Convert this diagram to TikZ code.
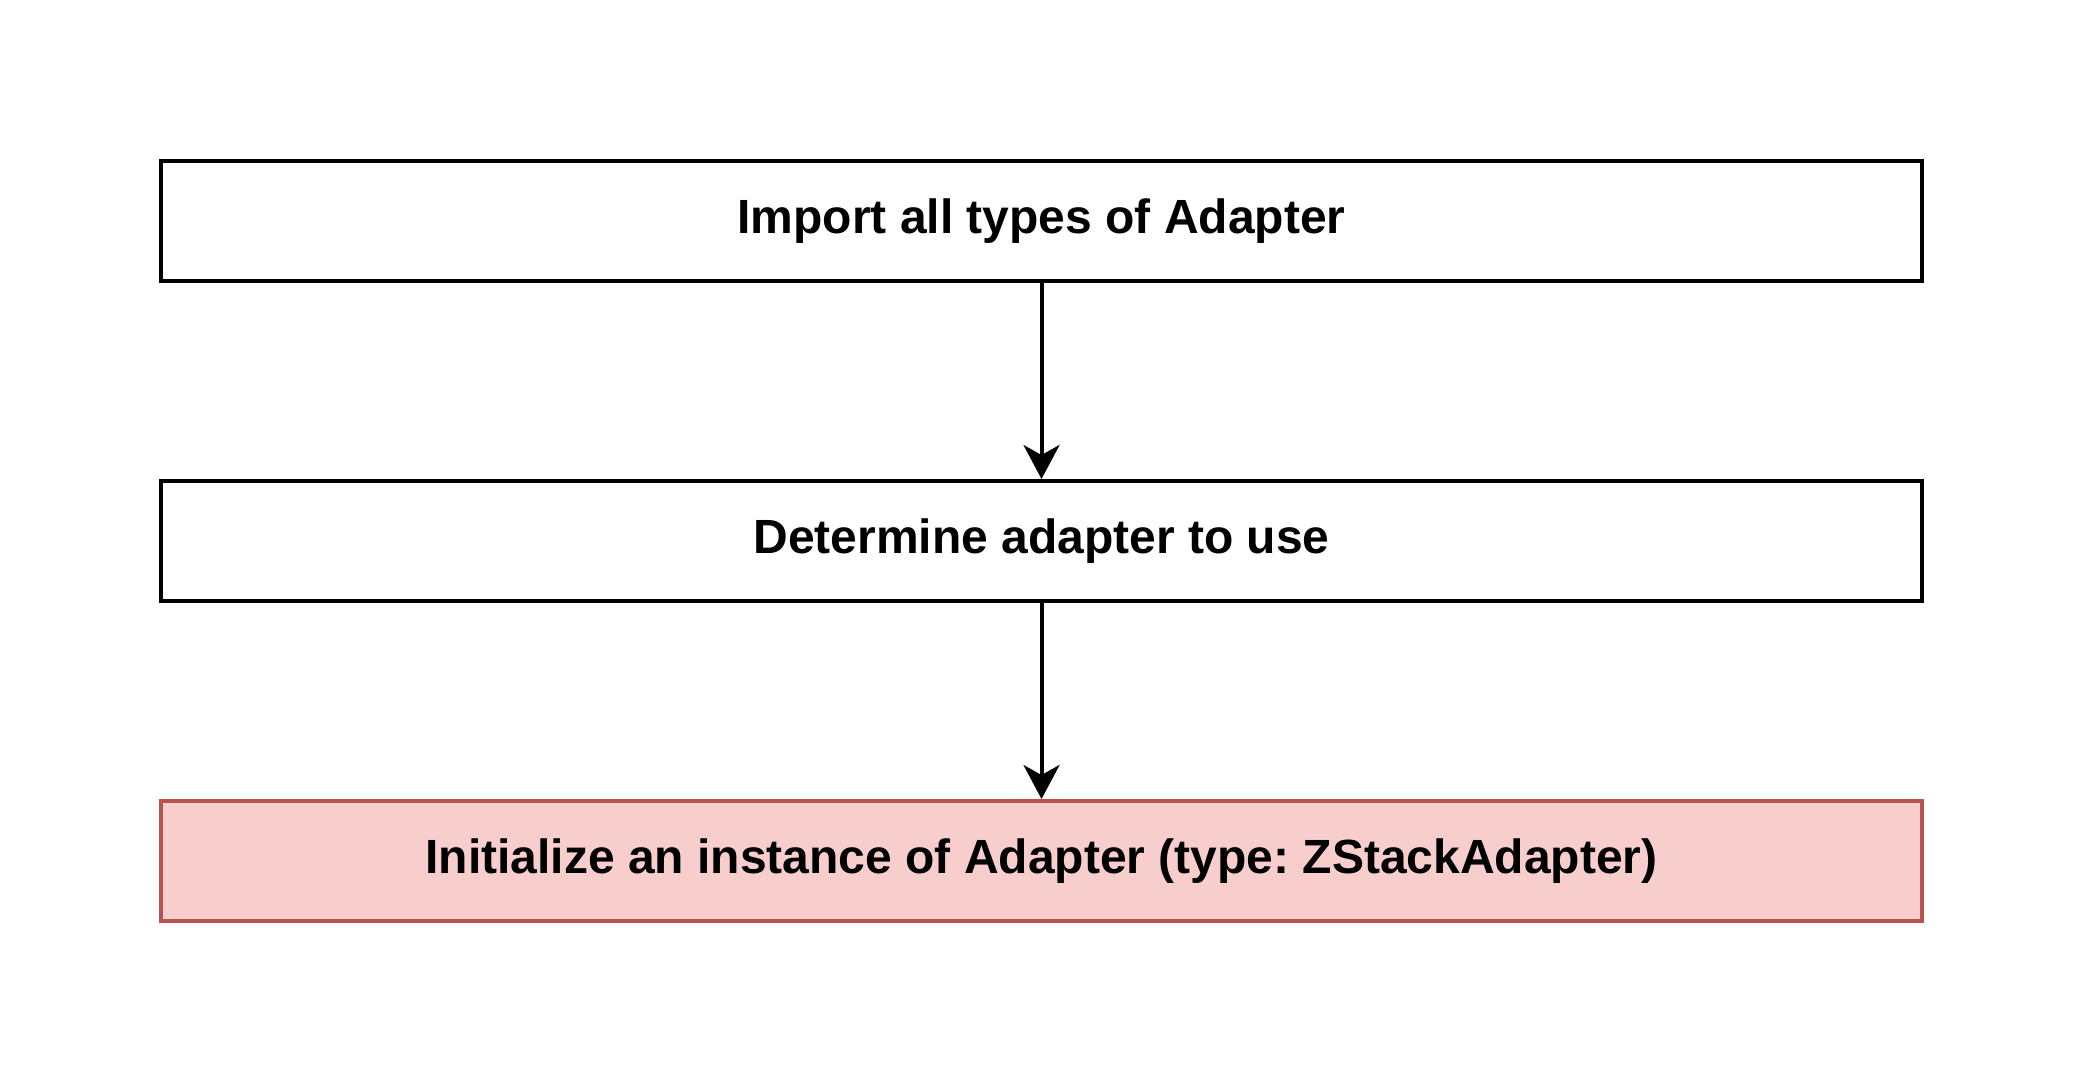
\documentclass[tikz,border=0pt]{standalone}
\usepackage{fontspec}
\setmainfont{Liberation Sans}
\usetikzlibrary{arrows.meta}
\definecolor{redfill}{HTML}{F8CECC}
\definecolor{reddraw}{HTML}{B85450}
\tikzset{
  stepbox/.style={draw=black, line width=4pt, fill=white, minimum width=1761pt, minimum height=120pt, inner sep=0pt, font=\fontsize{48}{58}\selectfont\bfseries},
  redbox/.style={stepbox, draw=reddraw, fill=redfill},
  flow/.style={line width=4pt, -{Stealth[length=34pt, width=36pt, inset=10pt]}}
}
\begin{document}
\frenchspacing
\begin{tikzpicture}[x=1pt, y=-1pt]
\useasboundingbox (0,0) rectangle (2088,1084);
\node[stepbox] (a) at (1041.5,221) {Import all types of Adapter};
\node[stepbox] (b) at (1041.5,541) {Determine adapter to use};
\node[redbox] (c) at (1041.5,861) {Initialize an instance of Adapter (type: ZStackAdapter)};
\draw[flow] (a) -- (b);
\draw[flow] (b) -- (c);
\end{tikzpicture}
\end{document}
